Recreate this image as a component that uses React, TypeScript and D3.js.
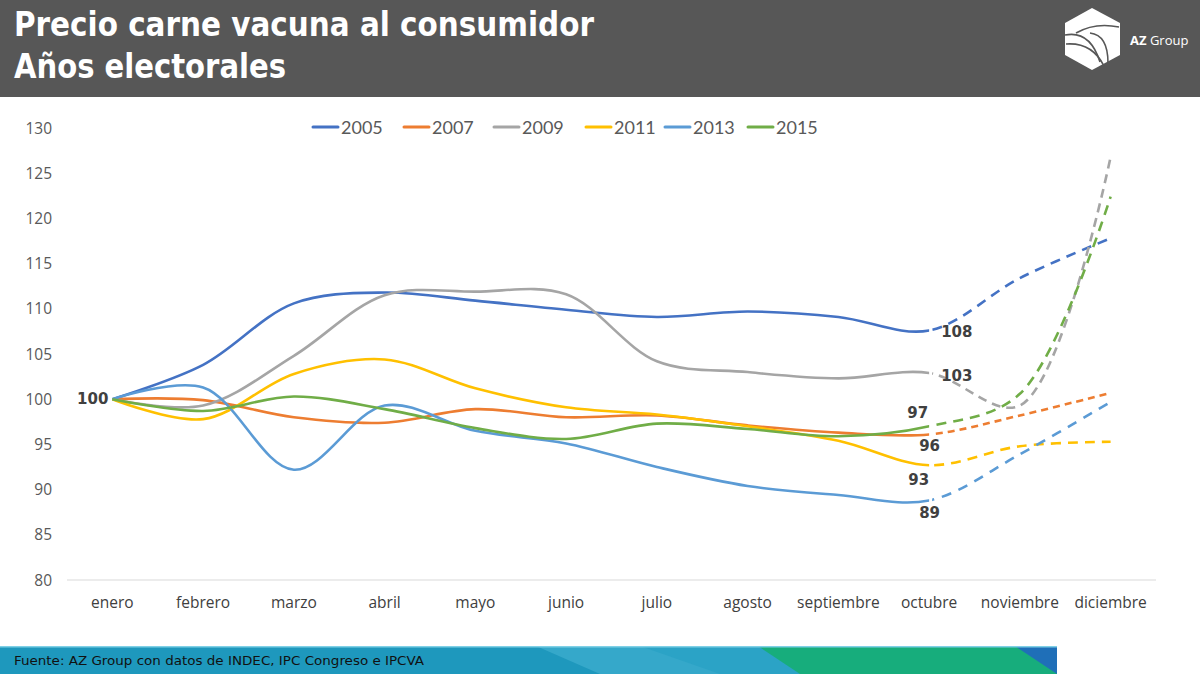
import React from 'react'
import * as d3 from 'd3'

const months = ['enero', 'febrero', 'marzo', 'abril', 'mayo', 'junio', 'julio', 'agosto', 'septiembre', 'octubre', 'noviembre', 'diciembre']
const years = ['2005', '2007', '2009', '2011', '2013', '2015']
const colors = ['#4472C4', '#ED7D31', '#A5A5A5', '#FFC000', '#5B9BD5', '#70AD47']

const s2005 = [100, 103.8, 110.6, 111.8, 110.9, 109.9, 109.1, 109.7, 109.1, 107.6, 113.4, 117.8]
const s2007 = [100, 99.9, 98.0, 97.4, 98.9, 98.0, 98.2, 97.1, 96.3, 96.1, 98.2, 100.7]
const s2009 = [100, 99.3, 104.8, 111.5, 111.9, 111.6, 104.2, 103.0, 102.3, 102.9, 99.3, 126.8]
const s2011 = [100, 97.8, 102.8, 104.4, 101.2, 99.1, 98.3, 97.0, 95.4, 92.7, 94.8, 95.3]
const s2013 = [100, 101.3, 92.2, 99.3, 96.5, 95.1, 92.5, 90.4, 89.4, 88.8, 93.9, 99.7]
const s2015 = [100, 98.7, 100.3, 98.9, 96.8, 95.6, 97.3, 96.7, 95.9, 97.0, 100.6, 122.4]
const series = [s2005, s2007, s2009, s2011, s2013, s2015]

const yTicks = [80, 85, 90, 95, 100, 105, 110, 115, 120, 125, 130]
const source = 'Fuente: AZ Group con datos de INDEC, IPC Congreso e IPCVA'

// where the octubre value labels sit relative to the point
const labelOffsets = [
  { dx: 12, dy: 7, anchor: 'start' },
  { dx: -10, dy: 17, anchor: 'start' },
  { dx: 12, dy: 8, anchor: 'start' },
  { dx: 0, dy: 20, anchor: 'end' },
  { dx: -10, dy: 18, anchor: 'start' },
  { dx: -1, dy: -8, anchor: 'end' },
]
const dashes = ['10,7', '7,5', '9,6', '10,7', '10,8', '10,7']

const W = 1200
const H = 674

export default function App() {
  const x = d3.scaleBand().domain(months).range([67, 1156]).paddingInner(0)
  const cx = (m: string) => (x(m) as number) + x.bandwidth() / 2
  const y = d3.scaleLinear().domain([80, 130]).range([580, 128])

  const line = d3.line<number>()
    .x((_, i) => cx(months[i]))
    .y(d => y(d))
    .curve(d3.curveCatmullRom.alpha(0.5))

  const xOct = cx('octubre')
  const font = "'Open Sans', 'DejaVu Sans', sans-serif"
  const legendX = [313, 404, 494, 586, 665, 748]

  return (
    <svg width={W} height={H} style={{ position: 'absolute', left: 0, top: 0, background: '#fff' }}>
      <defs>
        <clipPath id="solid-part"><rect x={0} y={0} width={xOct} height={H} /></clipPath>
        <clipPath id="dashed-part"><rect x={xOct + 3} y={0} width={W} height={H} /></clipPath>
      </defs>

      {/* header */}
      <rect x={0} y={0} width={W} height={97} fill="#575757" />
      <text x={14} y={36} fill="#fff" fontFamily="'DejaVu Sans Condensed', 'DejaVu Sans', sans-serif" fontWeight="bold" fontSize={33}
        textLength={580} lengthAdjust="spacingAndGlyphs">Precio carne vacuna al consumidor</text>
      <text x={14} y={78} fill="#fff" fontFamily="'DejaVu Sans Condensed', 'DejaVu Sans', sans-serif" fontWeight="bold" fontSize={33}
        textLength={272} lengthAdjust="spacingAndGlyphs">Años electorales</text>

      {/* logo */}
      <g>
        <path d="M1092,8 L1120,23 L1120,55 L1092,70 L1065,55 L1065,23 Z" fill="#fff" />
        <g fill="none" stroke="#575757" strokeWidth={1.6}>
          <path d="M1065,35 Q1090,30 1100,62" />
          <path d="M1066,44 Q1092,42 1104,66" />
          <path d="M1076,33 Q1095,22 1119,27" />
          <path d="M1090,33 Q1108,35 1108,63" />
        </g>
        <text x={1130} y={45} fill="#fff" fontFamily="'Open Sans', sans-serif" fontSize={13}>
          <tspan fontWeight="bold">AZ</tspan> Group
        </text>
      </g>

      {/* y axis labels */}
      {yTicks.map(t => (
        <text key={t} x={52} y={y(t) + 5.5} textAnchor="end" fontFamily={font} fontSize={15.5} fill="#595959">{t}</text>
      ))}

      {/* x axis */}
      <line x1={67} x2={1156} y1={y(80)} y2={y(80)} stroke="#d9d9d9" strokeWidth={1} />
      {months.map(m => (
        <text key={m} x={cx(m)} y={608} textAnchor="middle" fontFamily={font} fontSize={15.5} fill="#404040">{m}</text>
      ))}

      {/* legend */}
      {years.map((yr, i) => (
        <g key={yr}>
          <line x1={legendX[i]} x2={legendX[i] + 25} y1={127} y2={127} stroke={colors[i]} strokeWidth={3} strokeLinecap="round" />
          <text x={legendX[i] + 28} y={133.5} fontFamily="Lato, 'Open Sans', sans-serif" fontSize={18} fill="#595959">{yr}</text>
        </g>
      ))}

      {/* lines */}
      {series.map((s, i) => (
        <g key={years[i]} fill="none" stroke={colors[i]} strokeWidth={2.6}>
          <path d={line(s) || ''} clipPath="url(#solid-part)" />
          <path d={line(s) || ''} clipPath="url(#dashed-part)" strokeDasharray={dashes[i]} />
        </g>
      ))}

      {/* value labels */}
      <text x={cx('enero') - 4} y={y(100) + 5} textAnchor="end" fontFamily="'DejaVu Sans', sans-serif" fontWeight="bold" fontSize={15} fill="#404040">100</text>
      {series.map((s, i) => (
        <text key={years[i]} x={xOct + labelOffsets[i].dx} y={y(s[9]) + labelOffsets[i].dy}
          textAnchor={labelOffsets[i].anchor} fontFamily="'DejaVu Sans', sans-serif" fontWeight="bold" fontSize={15} fill="#404040">
          {Math.round(s[9])}
        </text>
      ))}

      {/* footer band */}
      <g>
        <rect x={0} y={646} width={1057} height={28} fill="#1e98bd" />
        <path d="M536,646 L700,646 L790,674 L600,674 Z" fill="#37aacb" opacity={0.9} />
        <path d="M640,646 L760,646 L830,674 L720,674 Z" fill="#2ba3c6" />
        <path d="M758,646 L1015,646 L1057,660 L1057,674 L800,674 Z" fill="#17ad7c" />
        <path d="M1015,646 L1057,646 L1057,674 Z" fill="#1f6fb8" />
        <rect x={0} y={646} width={1057} height={1.5} fill="#7fd0e6" />
        <text x={14} y={665} fontFamily="'DejaVu Sans Condensed', 'DejaVu Sans', sans-serif" fontSize={13} fill="#111"
          textLength={410} lengthAdjust="spacingAndGlyphs">{source}</text>
      </g>
    </svg>
  )
}
